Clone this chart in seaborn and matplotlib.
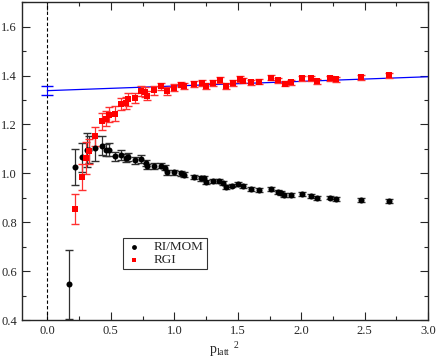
import numpy as np
import pandas as pd
import seaborn as sns
import matplotlib.pyplot as plt
from matplotlib.ticker import MultipleLocator

# RI/MOM data
x_mom = [0.167, 0.220, 0.273, 0.312, 0.325, 0.378, 0.431, 0.465, 0.484, 0.529,
         0.576, 0.616, 0.634, 0.687, 0.735, 0.774, 0.788, 0.840, 0.893, 0.925,
         0.946, 0.994, 1.052, 1.078, 1.152, 1.210, 1.231, 1.250, 1.303, 1.355,
         1.382, 1.408, 1.453, 1.500, 1.540, 1.606, 1.664, 1.759, 1.818, 1.844,
         1.865, 1.918, 2.008, 2.076, 2.124, 2.230, 2.277, 2.467, 2.692]
y_mom = [0.546, 1.026, 1.065, 1.094, 1.097, 1.102, 1.113, 1.094, 1.097, 1.069,
         1.076, 1.063, 1.067, 1.053, 1.059, 1.042, 1.028, 1.031, 1.031, 1.022,
         1.004, 1.004, 1.001, 0.995, 0.985, 0.979, 0.979, 0.964, 0.968, 0.968,
         0.960, 0.944, 0.950, 0.955, 0.948, 0.937, 0.933, 0.934, 0.925, 0.919,
         0.910, 0.911, 0.916, 0.909, 0.900, 0.901, 0.895, 0.891, 0.885]
e_mom = [0.141, 0.072, 0.060, 0.070, 0.055, 0.050, 0.040, 0.025, 0.025, 0.020,
         0.020, 0.018, 0.018, 0.015, 0.015, 0.012, 0.012, 0.012, 0.010, 0.010,
         0.010, 0.010, 0.010, 0.010, 0.010, 0.009, 0.009, 0.009, 0.009, 0.009,
         0.008, 0.008, 0.008, 0.008, 0.008, 0.008, 0.008, 0.008, 0.008, 0.008,
         0.008, 0.008, 0.008, 0.008, 0.008, 0.008, 0.008, 0.008, 0.008]

# RGI data
x_rgi = [0.220, 0.273, 0.307, 0.325, 0.378, 0.431, 0.463, 0.484, 0.529, 0.581,
         0.616, 0.634, 0.687, 0.740, 0.766, 0.788, 0.840, 0.893, 0.940, 0.994,
         1.052, 1.078, 1.152, 1.216, 1.250, 1.303, 1.363, 1.408, 1.461, 1.514,
         1.540, 1.606, 1.664, 1.759, 1.818, 1.870, 1.918, 2.008, 2.076, 2.124,
         2.230, 2.277, 2.467, 2.692]
y_rgi = [0.854, 0.985, 1.063, 1.090, 1.151, 1.213, 1.223, 1.240, 1.244, 1.285,
         1.288, 1.302, 1.309, 1.336, 1.332, 1.318, 1.340, 1.356, 1.336, 1.350,
         1.363, 1.356, 1.366, 1.370, 1.356, 1.370, 1.381, 1.356, 1.370, 1.384,
         1.378, 1.373, 1.375, 1.391, 1.381, 1.366, 1.373, 1.389, 1.388, 1.377,
         1.388, 1.384, 1.393, 1.401]
e_rgi = [0.060, 0.055, 0.065, 0.050, 0.040, 0.035, 0.030, 0.030, 0.030, 0.025,
         0.025, 0.025, 0.020, 0.020, 0.020, 0.020, 0.018, 0.015, 0.015, 0.015,
         0.012, 0.012, 0.012, 0.012, 0.012, 0.012, 0.012, 0.012, 0.012, 0.012,
         0.010, 0.010, 0.010, 0.010, 0.010, 0.010, 0.010, 0.010, 0.010, 0.010,
         0.010, 0.010, 0.010, 0.010]

# linear fit and its extrapolated value at p^2 = 0
fit_x = [0.0, 3.0]
fit_y = [1.338, 1.395]
fit_y0 = 1.338
fit_e0 = 0.019

df_mom = pd.DataFrame({'p2': x_mom, 'Z': y_mom, 'err': e_mom})
df_rgi = pd.DataFrame({'p2': x_rgi, 'Z': y_rgi, 'err': e_rgi})

sns.set_style('ticks')
plt.rcParams['font.family'] = ['Liberation Serif', 'DejaVu Serif']
plt.rcParams['mathtext.fontset'] = 'custom'
plt.rcParams['mathtext.rm'] = 'Liberation Serif'
plt.rcParams['mathtext.it'] = 'Liberation Serif'

fig = plt.figure(figsize=(4.36, 3.59), dpi=100)
ax = fig.add_axes([0.0505, 0.1086, 0.9315, 0.8854])

ax.axvline(0, color='black', linestyle='--', linewidth=0.8, dashes=(3, 2))

# fit line + extrapolated point
sns.lineplot(x=fit_x, y=fit_y, color='blue', linewidth=0.9, ax=ax)
ax.errorbar([0.0], [fit_y0], yerr=[fit_e0], fmt='none', ecolor='blue',
            elinewidth=0.8, capsize=4)

# error bars
ax.errorbar(df_mom['p2'], df_mom['Z'], yerr=df_mom['err'], fmt='none',
            ecolor='#303030', elinewidth=0.9, capsize=3)
ax.errorbar(df_rgi['p2'], df_rgi['Z'], yerr=df_rgi['err'], fmt='none',
            ecolor='#ff3030', elinewidth=0.9, capsize=3)

# points
sns.scatterplot(data=df_mom, x='p2', y='Z', marker='o', s=19, color='black',
                edgecolor='black', linewidth=0, label='RI/MOM', ax=ax, zorder=3)
sns.scatterplot(data=df_rgi, x='p2', y='Z', marker='s', s=15, color='red',
                edgecolor='red', linewidth=0, label='RGI', ax=ax, zorder=4)

ax.set_xlim(-0.2, 3.0)
ax.set_ylim(0.4, 1.7)
ax.xaxis.set_major_locator(MultipleLocator(0.5))
ax.xaxis.set_minor_locator(MultipleLocator(0.25))
ax.yaxis.set_major_locator(MultipleLocator(0.2))
ax.yaxis.set_minor_locator(MultipleLocator(0.1))
ax.tick_params(which='both', direction='in', top=True, right=True,
               labelsize=9, width=0.8)
ax.tick_params(which='major', length=6)
ax.tick_params(which='minor', length=3)
for s in ax.spines.values():
    s.set_linewidth(1.0)

ax.set_xlabel(r'$\mathrm{p_{latt}}^{\ \ 2}$', fontsize=10, labelpad=2)
ax.set_ylabel('')

leg = ax.legend(loc='lower left', bbox_to_anchor=(0.248, 0.159), borderaxespad=0,
                fontsize=9.5, frameon=True, fancybox=False, edgecolor='black',
                markerscale=0.8, handlelength=1.2, handletextpad=0.9,
                borderpad=0.25, labelspacing=0.05)
leg.get_frame().set_linewidth(0.8)

fig.savefig('out.png', dpi=100)
